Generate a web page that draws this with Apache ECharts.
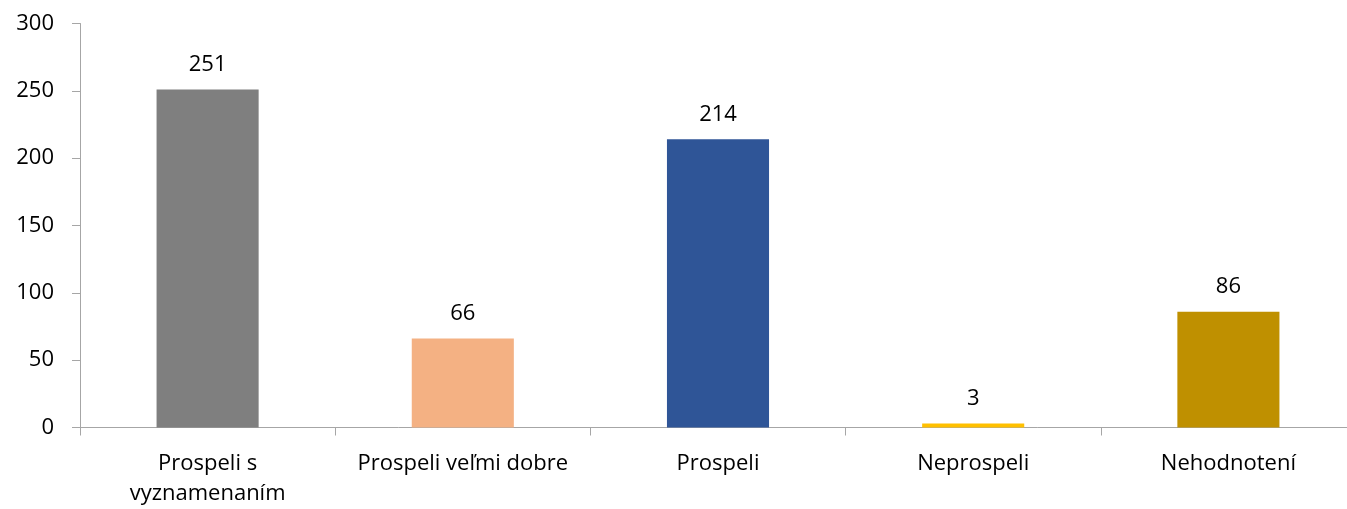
<!DOCTYPE html>
<html><head><meta charset="utf-8">
<script src="https://cdn.jsdelivr.net/npm/echarts@6/dist/echarts.min.js"></script>
<style>html,body{margin:0;padding:0;background:#fff;overflow:hidden}#c{width:1360px;height:509px}</style>
</head><body><div id="c"></div>
<script>
const categories = ['Prospeli s\nvyznamenaním', 'Prospeli veľmi dobre', 'Prospeli', 'Neprospeli', 'Nehodnotení'];
const values = [251, 66, 214, 3, 86];
const colors = ['#7f7f7f', '#f4b183', '#2f5597', '#ffc000', '#bf9000'];
const yTicks = [0, 50, 100, 150, 200, 250, 300];

const FONT = '"Open Sans", "Noto Sans", sans-serif';
const chart = echarts.init(document.getElementById('c'), null, {renderer: 'canvas'});
chart.setOption({
  animation: false,
  grid: {left: 80, top: 23.5, width: 1276, height: 404, containLabel: false},
  xAxis: {
    type: 'category', data: categories,
    axisLine: {lineStyle: {color: '#a6a6a6', width: 1}},
    axisTick: {show: true, length: 8, lineStyle: {color: '#a6a6a6'}},
    axisLabel: {color: '#000', fontFamily: FONT, fontSize: 22, margin: 21, lineHeight: 30, interval: 0}
  },
  yAxis: {
    type: 'value', min: yTicks[0], max: yTicks[yTicks.length - 1], interval: 50,
    splitLine: {show: false},
    axisLine: {show: true, lineStyle: {color: '#a6a6a6', width: 1}},
    axisTick: {show: true, length: 8, lineStyle: {color: '#a6a6a6'}},
    axisLabel: {color: '#000', fontFamily: FONT, fontSize: 22, margin: 26}
  },
  series: [{
    type: 'bar', barWidth: '40%',
    data: values.map((v, i) => ({value: v, itemStyle: {color: colors[i]}})),
    label: {show: true, position: 'top', distance: 14, color: '#000', fontFamily: FONT, fontSize: 22}
  }]
});
</script></body></html>
